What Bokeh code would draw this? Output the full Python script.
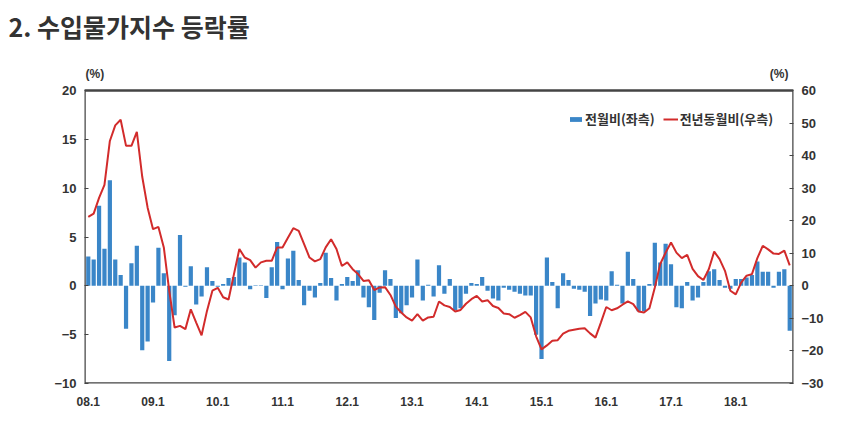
from bokeh.plotting import figure
from bokeh.models import Range1d, LinearAxis, FixedTicker, Legend, LegendItem, Title
from bokeh.core.properties import value
from bokeh.embed import file_html
from bokeh.resources import INLINE

# months from 2008.1 to 2018.11 (index 0 = 2008.1)
mom = [
    3.0, 2.7, 8.2, 3.8, 10.8, 2.7, 1.1, -4.4, 2.3, 4.1, -6.6, -5.7,          # 2008
    -1.7, 3.9, 1.3, -7.7, -3.0, 5.2, -0.1, 2.0, -1.9, -1.1, 1.9, 0.5,        # 2009
    -0.1, 0.2, 0.8, 0.9, 2.9, 2.4, -0.35, 0.05, 0.05, -1.25, 1.9, 4.5,       # 2010
    -0.35, 2.8, 3.6, 0.6, -2.0, -0.5, -1.2, 0.3, 3.4, 0.8, -1.5, 0.2,        # 2011
    0.9, 0.5, 1.6, -1.2, -2.2, -3.5, -0.7, 1.6, 0.7, -3.3, -2.8, -2.0,       # 2012
    -1.2, 2.7, -1.5, 0.1, -1.1, 2.1, -0.8, 0.7, -2.5, -2.3, -0.8, 0.3,       # 2013
    0.2, 0.9, -0.5, -1.3, -1.5, -0.2, -0.4, -0.6, -0.8, -1.0, -1.0, -5.0,    # 2014
    -7.5, 2.9, 0.4, -2.3, 1.3, 0.6, -0.3, -0.4, -0.6, -3.1, -1.8, -1.4,      # 2015
    -1.5, 1.5, 0.1, -1.8, 3.5, 0.7, -2.6, -2.6, 0.2, 4.4, 2.4, 4.3,          # 2016
    2.2, -2.2, -2.3, 0.4, -1.5, -1.2, 0.4, 1.5, 1.7, 0.6, -0.2, -0.3,        # 2017
    0.7, 0.7, 0.85, 1.1, 2.5, 1.45, 1.45, -0.2, 1.45, 1.7, -4.6,             # 2018
]
yoy = [
    21.2, 22.2, 27.0, 31.0, 44.5, 49.3, 51.0, 43.0, 43.0, 47.3, 33.5, 24.0,
    17.4, 18.1, 11.8, -1.5, -12.8, -12.3, -13.3, -7.2, -11.3, -15.2, -7.7, -1.5,
    -0.6, -3.5, -4.2, 3.6, 11.3, 8.7, 7.9, 5.6, 7.2, 7.7, 7.7, 11.8,
    11.8, 14.8, 17.7, 16.9, 12.8, 8.7, 7.5, 8.2, 11.8, 14.3, 11.3, 6.1,
    7.2, 5.1, 3.6, 1.5, 1.7, -1.3, -0.5, -0.4, -2.8, -6.4, -8.2, -9.7,
    -10.7, -8.7, -10.7, -9.7, -9.5, -4.8, -6.0, -6.5, -7.9, -7.4, -5.5, -4.1,
    -3.1, -4.8, -4.4, -6.2, -6.8, -8.5, -8.7, -9.8, -9.0, -8.0, -9.7, -15.5,
    -19.5, -18.3, -16.9, -16.7, -14.7, -13.8, -13.5, -13.2, -13.0, -14.6, -15.9, -11.3,
    -6.5, -7.5, -6.9, -5.8, -4.8, -5.6, -7.9, -8.2, -6.9, -0.5, 6.7, 10.2,
    13.3, 10.2, 8.5, 9.5, 5.2, 3.0, 1.8, 5.1, 10.5, 8.2, 4.6, -1.5,
    -2.6, 1.0, 3.1, 3.6, 8.5, 12.3, 11.2, 9.9, 9.8, 10.8, 6.3,
]
months = list(range(len(mom)))
tick_pos = [0, 12, 24, 36, 48, 60, 72, 84, 96, 108, 120]
tick_labels = ["08.1", "09.1", "10.1", "11.1", "12.1", "13.1", "14.1", "15.1", "16.1", "17.1", "18.1"]
left_ticks = [-10, -5, 0, 5, 10, 15, 20]
right_ticks = [-30, -20, -10, 0, 10, 20, 30, 40, 50, 60]

title_text = "2. 수입물가지수 등락률"
unit_text = "(%)"
legend_bar = "전월비(좌측)"
legend_line = "전년동월비(우측)"

BLUE = "#3a86c8"
RED = "#d22b2b"
DARK = "#333333"
BOX = "#444444"
NUM_FONT = "Liberation Sans"
KR_FONT = "Noto Sans CJK KR"

# layout (pixels)
W, H = 860, 448
BOX_TOP, BOX_BOTTOM = 90, 383          # visible box of the chart
FRAME_TOP = 65                         # frame reaches a bit higher to hold "(%)"
L_MIN, L_MAX = -10, 20
R_MIN, R_MAX = -30, 60
X_MIN, X_MAX = -0.7, 130.7

box_h = BOX_BOTTOM - BOX_TOP
extra = (BOX_TOP - FRAME_TOP) / box_h
y_top_left = L_MAX + (L_MAX - L_MIN) * extra
y_top_right = R_MAX + (R_MAX - R_MIN) * extra
unit_y = L_MAX + (L_MAX - L_MIN) * (17 / box_h)   # 17 px above the box

p = figure(width=W, height=H, output_backend="svg", toolbar_location=None, title=None,
           x_range=Range1d(X_MIN, X_MAX), y_range=Range1d(L_MIN, y_top_left),
           min_border_left=84, min_border_right=67, min_border_top=FRAME_TOP,
           min_border_bottom=H - BOX_BOTTOM)
p.background_fill_color = "white"
p.border_fill_color = "white"
p.outline_line_color = None
p.xgrid.grid_line_color = None
p.ygrid.grid_line_color = None

# small spacer title next to the frame, then the real title above it
p.add_layout(Title(text=" ", text_font_size="4px", text_color="white"), "above")
p.add_layout(Title(text=title_text, align="left", offset=-76, text_font=KR_FONT,
                   text_font_style="bold", text_font_size="25px", text_color=DARK), "above")

p.extra_y_ranges = {"yoy": Range1d(R_MIN, y_top_right)}

# chart box
p.quad(left=[X_MIN], right=[X_MAX], bottom=[L_MIN], top=[L_MAX],
       fill_color=None, line_color=BOX, line_width=2.5)

bars = p.vbar(x=months, top=mom, bottom=0, width=0.78, fill_color=BLUE, line_color=None)
line = p.line(x=months, y=yoy, y_range_name="yoy", line_color=RED, line_width=2)

# unit labels
p.text(x=[X_MIN, X_MAX], y=[unit_y, unit_y], text=[unit_text, unit_text],
       text_font=value(NUM_FONT), text_font_style="bold", text_font_size="12px",
       text_color=DARK, text_baseline="middle", text_align=["left", "right"],
       x_offset=[1, -5])

xa = p.xaxis[0]
xa.ticker = FixedTicker(ticks=tick_pos)
xa.major_label_overrides = {t: l for t, l in zip(tick_pos, tick_labels)}
xa.major_tick_line_color = None
xa.minor_tick_line_color = None
xa.axis_line_color = None
xa.major_label_standoff = 7
xa.major_label_text_font = NUM_FONT
xa.major_label_text_font_style = "bold"
xa.major_label_text_font_size = "12px"
xa.major_label_text_color = DARK

ya = p.yaxis[0]
ya.ticker = FixedTicker(ticks=left_ticks)
ya.major_tick_in = 4
ya.major_tick_out = 0
ya.major_tick_line_color = BOX
ya.minor_tick_line_color = None
ya.axis_line_color = None
ya.major_label_standoff = 8
ya.major_label_text_font = NUM_FONT
ya.major_label_text_font_style = "bold"
ya.major_label_text_font_size = "13px"
ya.major_label_text_color = DARK

ra = LinearAxis(y_range_name="yoy", ticker=FixedTicker(ticks=right_ticks))
ra.major_tick_in = 4
ra.major_tick_out = 0
ra.major_tick_line_color = BOX
ra.minor_tick_line_color = None
ra.axis_line_color = None
ra.major_label_standoff = 8
ra.major_label_text_font = NUM_FONT
ra.major_label_text_font_style = "bold"
ra.major_label_text_font_size = "13px"
ra.major_label_text_color = DARK
p.add_layout(ra, "right")

legend = Legend(items=[LegendItem(label=legend_bar, renderers=[bars]),
                       LegendItem(label=legend_line, renderers=[line])],
                location=(484, 255), orientation="horizontal")
legend.background_fill_alpha = 0
legend.border_line_color = None
legend.padding = 2
legend.spacing = 8
legend.glyph_width = 15
legend.glyph_height = 6
legend.label_standoff = 2
legend.label_text_font = KR_FONT
legend.label_text_font_style = "bold"
legend.label_text_font_size = "13px"
legend.label_text_color = DARK
p.add_layout(legend, "center")

open("out.html", "w").write(file_html(p, INLINE))
